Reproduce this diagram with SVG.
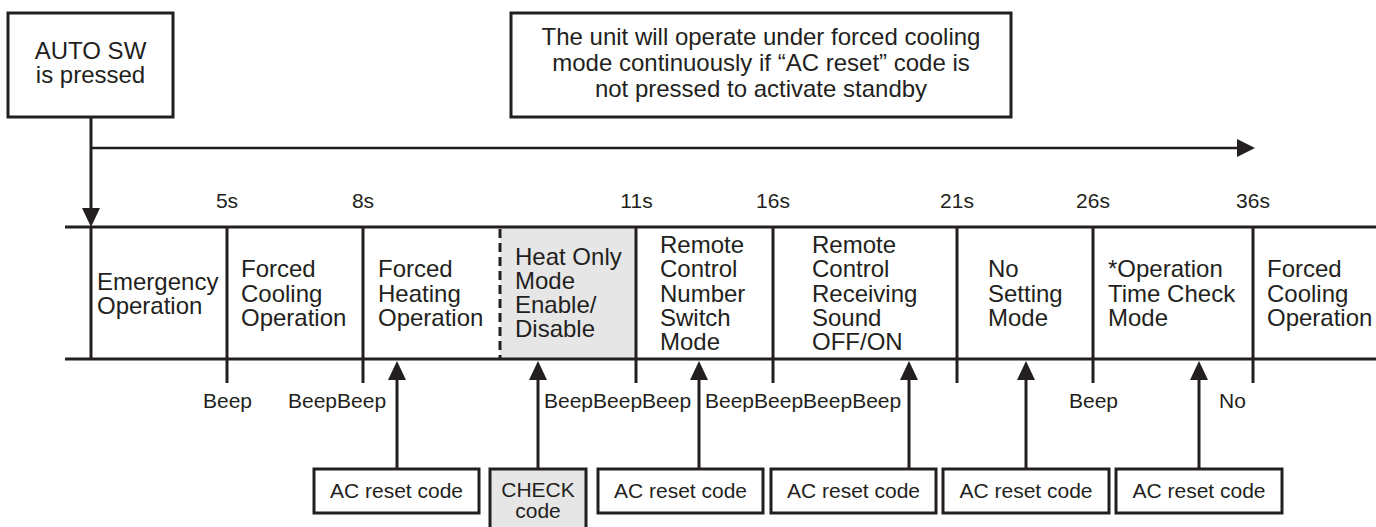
<svg xmlns="http://www.w3.org/2000/svg" width="1376" height="527" viewBox="0 0 1376 527">
<style>
  .t{font-family:"Liberation Sans",Arial,sans-serif;fill:#231f20}
  .big{font-size:24px}
  .sm{font-size:21px}
  .mid{text-anchor:middle}
  .box{fill:#fff;stroke:#231f20;stroke-width:3}
  .gray{fill:#e6e6e6}
  .ln{stroke:#231f20;stroke-width:3;fill:none}
  .thin{stroke:#231f20;stroke-width:2.5;fill:none}
  .dash{stroke:#231f20;stroke-width:3;stroke-dasharray:9 5;fill:none}
  .head{fill:#231f20}
</style>
<rect width="1376" height="527" fill="#fff"/>

<g id="auto-sw">
  <rect class="box" x="8" y="13" width="165" height="104"/>
  <text class="t big mid" x="90.5" y="59">AUTO SW</text>
  <text class="t big mid" x="90.5" y="83">is pressed</text>
</g>

<g id="note">
  <rect class="box" x="511" y="13" width="500" height="104"/>
  <text class="t big mid" x="761" y="45">The unit will operate under forced cooling</text>
  <text class="t big mid" x="761" y="71">mode continuously if “AC reset” code is</text>
  <text class="t big mid" x="761" y="97">not pressed to activate standby</text>
</g>

<g id="time-labels">
  <text class="t sm mid" x="227" y="208">5s</text>
  <text class="t sm mid" x="363" y="208">8s</text>
  <text class="t sm mid" x="636.5" y="208">11s</text>
  <text class="t sm mid" x="773" y="208">16s</text>
  <text class="t sm mid" x="957" y="208">21s</text>
  <text class="t sm mid" x="1093" y="208">26s</text>
  <text class="t sm mid" x="1253" y="208">36s</text>
</g>

<g id="timeline">
  <rect class="gray" x="500" y="227" width="136" height="132"/>
  <line class="ln" x1="65" y1="227" x2="1376" y2="227"/>
  <line class="ln" x1="65" y1="359" x2="1376" y2="359"/>
  <line class="ln" x1="91" y1="227" x2="91" y2="359"/>
  <line class="ln" x1="227" y1="227" x2="227" y2="383"/>
  <line class="ln" x1="363" y1="227" x2="363" y2="383"/>
  <line class="dash" x1="500" y1="229" x2="500" y2="358"/>
  <line class="ln" x1="636" y1="227" x2="636" y2="383"/>
  <line class="ln" x1="773" y1="227" x2="773" y2="383"/>
  <line class="ln" x1="957" y1="227" x2="957" y2="383"/>
  <line class="ln" x1="1093" y1="227" x2="1093" y2="383"/>
  <line class="ln" x1="1253" y1="227" x2="1253" y2="383"/>
</g>

<g id="cell-emergency">
  <text class="t big" x="97" y="290">Emergency</text>
  <text class="t big" x="97" y="313.5">Operation</text>
</g>
<g id="cell-forced-cooling">
  <text class="t big" x="241" y="277">Forced</text>
  <text class="t big" x="241" y="301.5">Cooling</text>
  <text class="t big" x="241" y="326">Operation</text>
</g>
<g id="cell-forced-heating">
  <text class="t big" x="378" y="277">Forced</text>
  <text class="t big" x="378" y="301.5">Heating</text>
  <text class="t big" x="378" y="326">Operation</text>
</g>
<g id="cell-heat-only">
  <text class="t big" x="515" y="265">Heat Only</text>
  <text class="t big" x="515" y="289">Mode</text>
  <text class="t big" x="515" y="313">Enable/</text>
  <text class="t big" x="515" y="337">Disable</text>
</g>
<g id="cell-rc-number">
  <text class="t big" x="660" y="253">Remote</text>
  <text class="t big" x="660" y="277">Control</text>
  <text class="t big" x="660" y="301.5">Number</text>
  <text class="t big" x="660" y="326">Switch</text>
  <text class="t big" x="660" y="349.5">Mode</text>
</g>
<g id="cell-rc-sound">
  <text class="t big" x="812" y="253">Remote</text>
  <text class="t big" x="812" y="277">Control</text>
  <text class="t big" x="812" y="301.5">Receiving</text>
  <text class="t big" x="812" y="326">Sound</text>
  <text class="t big" x="812" y="349.5">OFF/ON</text>
</g>
<g id="cell-no-setting">
  <text class="t big" x="988" y="277">No</text>
  <text class="t big" x="988" y="301.5">Setting</text>
  <text class="t big" x="988" y="326">Mode</text>
</g>
<g id="cell-op-time">
  <text class="t big" x="1108" y="277">*Operation</text>
  <text class="t big" x="1108" y="301.5">Time Check</text>
  <text class="t big" x="1108" y="326">Mode</text>
</g>
<g id="cell-forced-cooling-2">
  <text class="t big" x="1267" y="277">Forced</text>
  <text class="t big" x="1267" y="301.5">Cooling</text>
  <text class="t big" x="1267" y="326">Operation</text>
</g>

<g id="beep-labels">
  <text class="t sm mid" x="227.5" y="408">Beep</text>
  <text class="t sm" x="288" y="408">BeepBeep</text>
  <text class="t sm" x="544" y="408">BeepBeepBeep</text>
  <text class="t sm" x="705" y="408">BeepBeepBeepBeep</text>
  <text class="t sm" x="1069" y="408">Beep</text>
  <text class="t sm" x="1219" y="408">No</text>
</g>

<g id="code-1">
  <rect class="box" x="314" y="469" width="165" height="44"/>
  <text class="t sm mid" x="396.5" y="498">AC reset code</text>
</g>
<g id="code-check">
  <rect class="box gray" x="490" y="469" width="96" height="70"/>
  <text class="t sm mid" x="538" y="497">CHECK</text>
  <text class="t sm mid" x="538" y="518">code</text>
</g>
<g id="code-2">
  <rect class="box" x="598" y="469" width="165" height="44"/>
  <text class="t sm mid" x="680.5" y="498">AC reset code</text>
</g>
<g id="code-3">
  <rect class="box" x="771" y="469" width="165" height="44"/>
  <text class="t sm mid" x="853.5" y="498">AC reset code</text>
</g>
<g id="code-4">
  <rect class="box" x="943" y="469" width="166" height="44"/>
  <text class="t sm mid" x="1026" y="498">AC reset code</text>
</g>
<g id="code-5">
  <rect class="box" x="1116" y="469" width="166" height="44"/>
  <text class="t sm mid" x="1199" y="498">AC reset code</text>
</g>

<g id="connectors">
  <line class="ln" x1="91" y1="117" x2="91" y2="210"/>
  <polygon class="head" points="82,208 100,208 91,227"/>
  <line class="thin" x1="91" y1="148" x2="1239" y2="148"/>
  <polygon class="head" points="1237,139 1237,157 1255,148"/>

  <line class="ln" x1="397" y1="469" x2="397" y2="378"/>
  <polygon class="head" points="388,380 406,380 397,361"/>
  <line class="ln" x1="538" y1="469" x2="538" y2="378"/>
  <polygon class="head" points="529,380 547,380 538,361"/>
  <line class="ln" x1="699" y1="469" x2="699" y2="378"/>
  <polygon class="head" points="690,380 708,380 699,361"/>
  <line class="ln" x1="909" y1="469" x2="909" y2="378"/>
  <polygon class="head" points="900,380 918,380 909,361"/>
  <line class="ln" x1="1026" y1="469" x2="1026" y2="378"/>
  <polygon class="head" points="1017,380 1035,380 1026,361"/>
  <line class="ln" x1="1199" y1="469" x2="1199" y2="378"/>
  <polygon class="head" points="1190,380 1208,380 1199,361"/>
</g>
</svg>
